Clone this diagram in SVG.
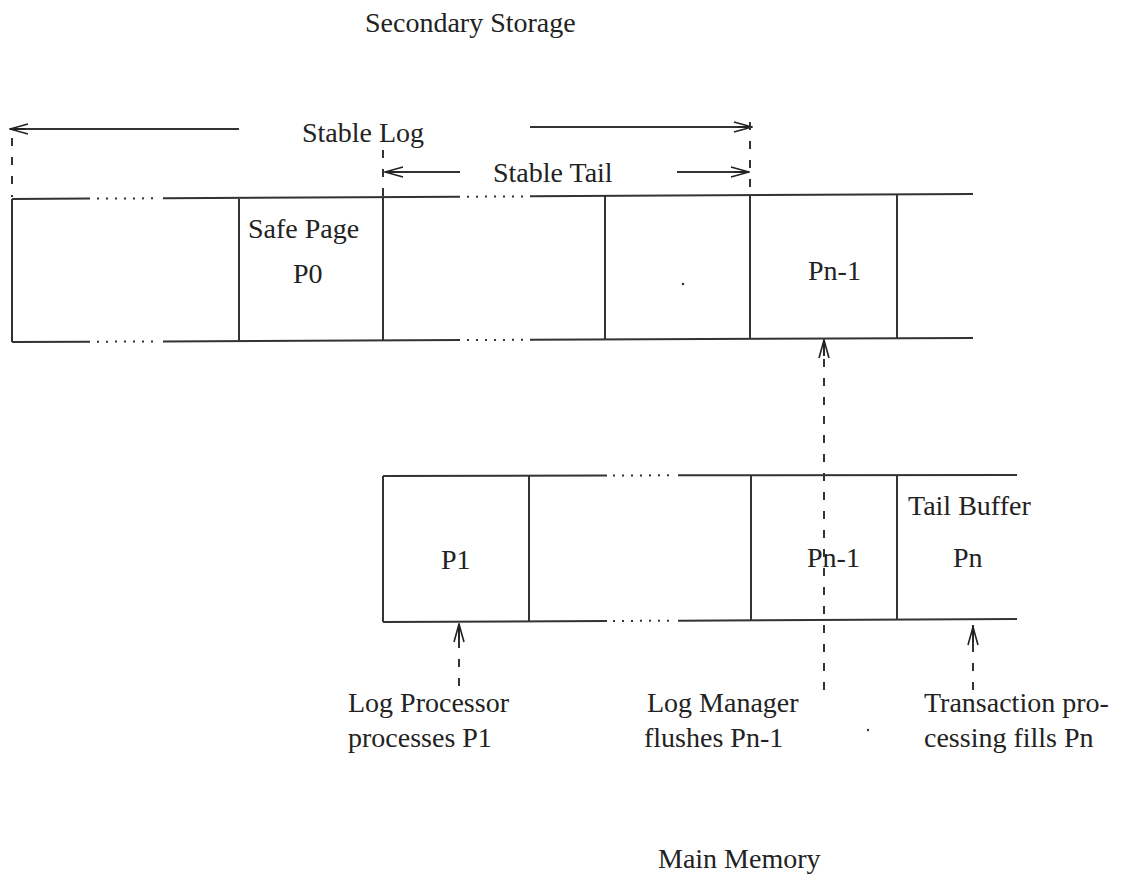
<svg xmlns="http://www.w3.org/2000/svg" width="1126" height="877" viewBox="0 0 1126 877">
<defs>
<marker id="ah" viewBox="0 0 20 12" refX="19" refY="6" markerWidth="20" markerHeight="12" markerUnits="userSpaceOnUse" orient="auto">
<path d="M1,1 L19,6 L1,11 M4,6 L19,6" fill="none" stroke="#222" stroke-width="1.6"/>
</marker>
</defs>
<style>
text{font-family:"Liberation Serif","Times New Roman",serif;font-size:28px;fill:#222}
.ln{stroke:#333;stroke-width:2;fill:none}
.dot{stroke:#333;stroke-width:2;stroke-dasharray:2 7;fill:none}
.dash{stroke:#333;stroke-width:2;stroke-dasharray:8 11;fill:none}
.arr{stroke:#333;stroke-width:2;fill:none;marker-end:url(#ah)}
</style>
<rect width="1126" height="877" fill="#fff"/>
<text id="secondary" x="365" y="32">Secondary Storage</text>
<g id="stable-log">
<text x="302" y="142">Stable Log</text>
</g>
<g id="stable-tail">
<text x="493" y="182">Stable Tail</text>
</g>
<g id="stable-strip">
<path class="ln" d="M12,199 L90,198.6 M163,198.2 L460,196.7 M530,196.3 L973,194"/>
<path class="dot" d="M97,198.6 L158,198.3 M467,196.7 L526,196.4"/>
<path class="ln" d="M12,342 L90,341.7 M163,341.4 L460,340.1 M530,339.8 L973,338"/>
<path class="dot" d="M97,341.7 L158,341.4 M467,340.1 L526,339.8"/>
<path class="ln" d="M12,199 V342 M239,199 V342 M383,197 V341 M605,196 V340 M750,195 V339 M897,194 V338"/>
</g>
<g id="safe-page"><text x="248" y="238">Safe Page</text><text x="293" y="283">P0</text></g>
<g id="stable-pn1"><text x="808" y="280">Pn-1</text></g>
<circle cx="683" cy="284" r="1.3" fill="#333"/>
<g id="buffer-strip">
<path class="ln" d="M383,476 L607,475.5 M678,475.3 L1017,475"/>
<path class="dot" d="M613,475.5 L673,475.3"/>
<path class="ln" d="M383,622 L607,621 M678,620.7 L1017,619"/>
<path class="dot" d="M613,621 L673,620.7"/>
<path class="ln" d="M383,476 V622 M529,476 V621 M751,475 V620 M897,475 V619"/>
</g>
<g id="p1"><text x="441" y="569">P1</text></g>
<g id="buf-pn1"><text x="807" y="567">Pn-1</text></g>
<g id="tail-buffer"><text x="908" y="515">Tail Buffer</text><text x="953" y="567">Pn</text></g>
<g id="label-lp"><text x="348" y="712">Log Processor</text><text x="348" y="747">processes P1</text></g>
<g id="label-lm"><text x="647" y="712">Log Manager</text><text x="644" y="747">flushes Pn-1</text></g>
<g id="label-tp"><text x="924" y="712">Transaction pro-</text><text x="924" y="747">cessing fills Pn</text></g>
<text id="main" x="658" y="868">Main Memory</text>
<g id="connectors">
<path class="arr" d="M239,129 H10"/>
<path class="arr" d="M530,127 H752"/>
<path class="arr" d="M460,172 H385"/>
<path class="arr" d="M677,172 H749"/>
<path class="dash" d="M12,138 V197"/>
<path class="dash" d="M383,150 V197"/>
<path class="dash" d="M750,122 V195"/>
<path class="dash" d="M824,690 V340"/>
<path class="arr" d="M824,356 V340"/>
<path class="dash" d="M459,686 V625"/>
<path class="arr" d="M459,640 V624"/>
<path class="dash" d="M973,690 V625"/>
<path class="arr" d="M973,645 V627"/>
</g>
<circle cx="868" cy="730" r="1.2" fill="#333"/>
</svg>
